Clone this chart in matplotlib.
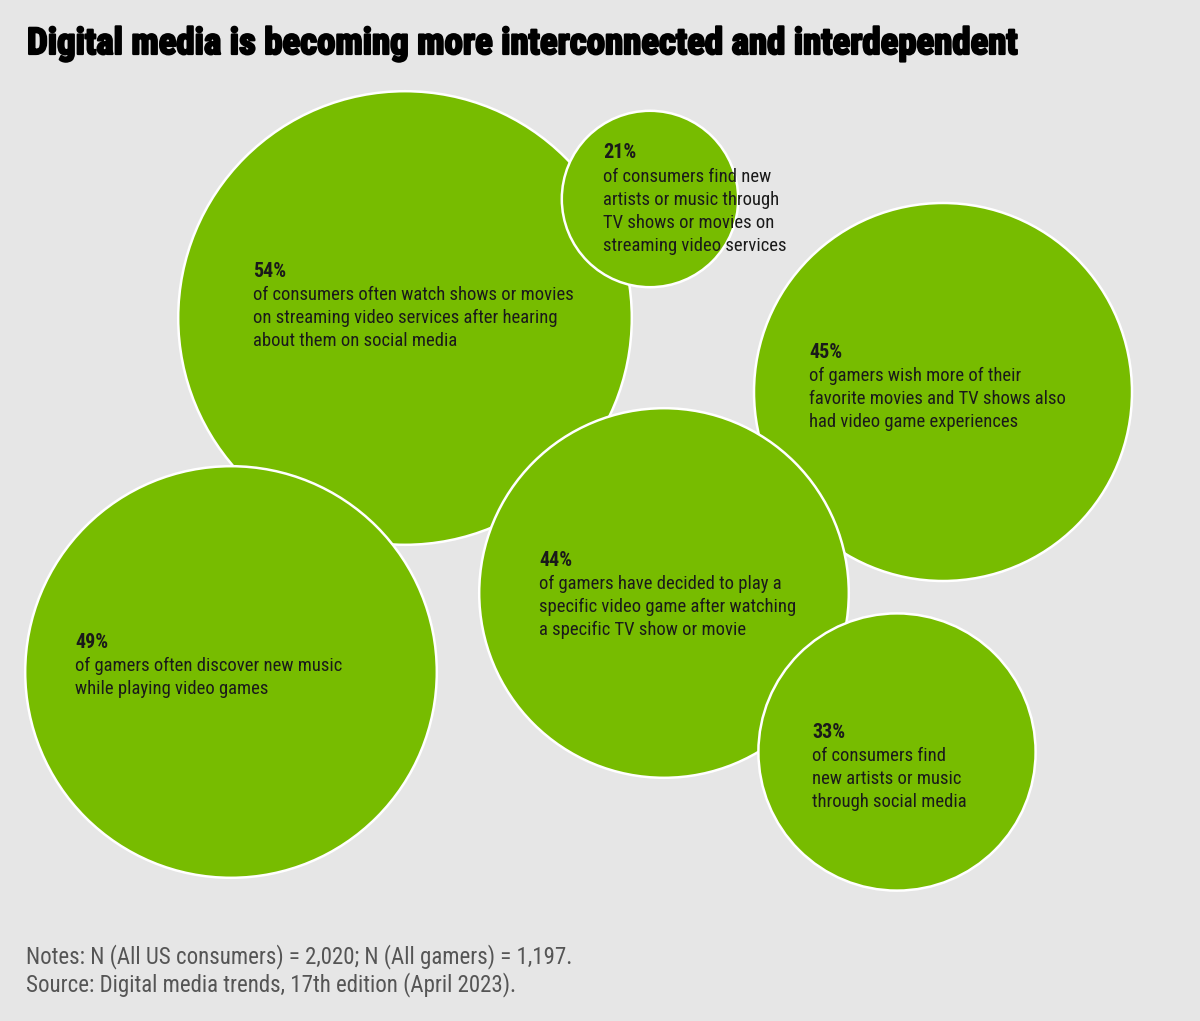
import matplotlib.pyplot as plt
import matplotlib.patheffects as pe
from matplotlib.patches import Circle

# values shown in the bubbles (percent)
values = [54, 45, 49, 44, 21, 33]
labels = ["54%", "45%", "49%", "44%", "21%", "33%"]
texts = [
    ["of consumers often watch shows or movies",
     "on streaming video services after hearing",
     "about them on social media"],
    ["of gamers wish more of their",
     "favorite movies and TV shows also",
     "had video game experiences"],
    ["of gamers often discover new music",
     "while playing video games"],
    ["of gamers have decided to play a",
     "specific video game after watching",
     "a specific TV show or movie"],
    ["of consumers find new",
     "artists or music through",
     "TV shows or movies on",
     "streaming video services"],
    ["of consumers find",
     "new artists or music",
     "through social media"],
]

title = "Digital media is becoming more interconnected and interdependent"
notes = ["Notes: N (All US consumers) = 2,020; N (All gamers) = 1,197.",
         "Source: Digital media trends, 17th edition (April 2023)."]

# layout (pixel space)
centers = [(405, 318), (943, 392), (231, 672), (664, 593), (650, 199), (897, 752)]
text_pos = [(253, 271), (809, 352), (75, 642), (539, 560), (603, 153), (812, 732)]
scale = 4.2  # radius px per percent

W, H = 1200, 1021
green = "#77bc00"
bg = "#e6e6e6"
body_fam = ["Roboto Condensed", "Roboto", "DejaVu Sans"]

fig = plt.figure(figsize=(W / 100, H / 100), dpi=100)
fig.patch.set_facecolor(bg)
ax = fig.add_axes([0, 0, 1, 1])
ax.set_xlim(0, W)
ax.set_ylim(H, 0)
ax.set_aspect("equal")
ax.axis("off")

for v, c in zip(values, centers):
    ax.add_patch(Circle(c, v * scale, facecolor=green, edgecolor="white", lw=1.8))

fig.canvas.draw()
renderer = fig.canvas.get_renderer()


def fitted_size(s, target, **kw):
    t = ax.text(0, 0, s, fontsize=12, **kw)
    w = t.get_window_extent(renderer).width
    t.remove()
    return 12 * target / w


body_fs = fitted_size(texts[0][0], 319, family=body_fam)
pct_fs = fitted_size(labels[0], 33, family=body_fam, fontweight="bold")
note_fs = fitted_size(notes[0], 544, family=body_fam)
title_fs = fitted_size(title, 992, family=body_fam, fontweight="black")

for lab, body, (x, y) in zip(labels, texts, text_pos):
    ax.text(x, y, lab, fontsize=pct_fs, fontweight="bold", family=body_fam,
            color="#1a1a1a", va="center", ha="left")
    for i, line in enumerate(body):
        ax.text(x, y + 24 + 23 * i, line, fontsize=body_fs, family=body_fam,
                color="#1a1a1a", va="center", ha="left")

ax.text(27, 44, title, fontsize=title_fs, fontweight="black", family=body_fam,
        color="black", va="center", ha="left",
        path_effects=[pe.withStroke(linewidth=1.6, foreground="black")])

for i, n in enumerate(notes):
    ax.text(26, 957 + 28 * i, n, fontsize=note_fs, family=body_fam,
            color="#555555", va="center", ha="left")

fig.savefig("out.png", dpi=100, facecolor=bg)
